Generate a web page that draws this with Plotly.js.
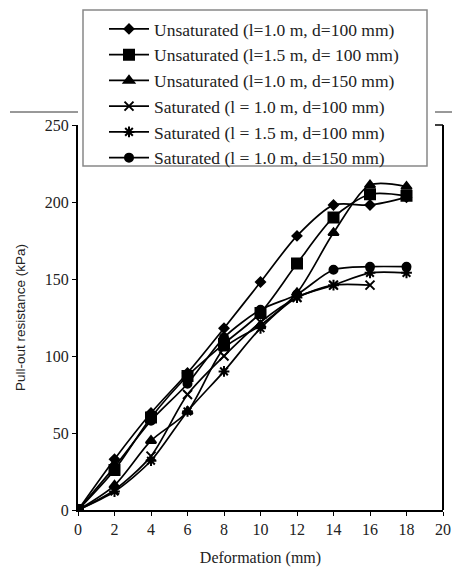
<!DOCTYPE html>
<html>
<head>
<meta charset="utf-8">
<script src="https://cdn.plot.ly/plotly-3.0.1.min.js"></script>
<style>html,body{margin:0;padding:0;background:#fff;}#chart{width:452px;height:571px;}</style>
</head>
<body>
<div id="chart"></div>
<script>
const deformation = [0, 2, 4, 6, 8, 10, 12, 14, 16, 18];
const deformationSat1 = [0, 2, 4, 6, 8, 10, 12, 14, 16];

const seriesNames = [
  "Unsaturated (l=1.0 m, d=100 mm)",
  "Unsaturated (l=1.5 m, d= 100 mm)",
  "Unsaturated (l=1.0 m, d=150 mm)",
  "Saturated (l = 1.0 m, d=100 mm)",
  "Saturated (l = 1.5 m, d=100 mm)",
  "Saturated (l = 1.0 m, d=150 mm)"
];

const unsat_l10_d100 = [0, 33, 63, 89, 118, 148, 178, 198, 198, 203];
const unsat_l15_d100 = [0, 26, 60, 87, 108, 128, 160, 190, 205, 204];
const unsat_l10_d150 = [0, 16, 45, 64, 105, 120, 141, 180, 211, 210];
const sat_l10_d100   = [0, 13, 35, 75, 100, 122, 138, 146, 146];
const sat_l15_d100   = [0, 12, 32, 64, 90, 118, 138, 146, 154, 154];
const sat_l10_d150   = [0, 28, 58, 82, 112, 130, 140, 156, 158, 158];

const xTicks = [0, 2, 4, 6, 8, 10, 12, 14, 16, 18, 20];
const yTicks = [0, 50, 100, 150, 200, 250];

const xs = [deformation, deformation, deformation, deformationSat1, deformation, deformation];
const ys = [unsat_l10_d100, unsat_l15_d100, unsat_l10_d150, sat_l10_d100, sat_l15_d100, sat_l10_d150];
const symbols = ["diamond", "square", "triangle-up", "x-thin-open", "asterisk-open", "circle"];
const sizes = [7, 10, 9, 9, 9, 8];

const traces = ys.map((y, i) => ({
  x: xs[i], y: y, name: seriesNames[i], type: "scatter", mode: "lines+markers",
  legendgroup: "g" + i,
  line: {color: "#000", width: 1.7, shape: "spline", smoothing: 0.8},
  marker: {symbol: symbols[i], size: sizes[i], color: "#000", line: {color: "#000", width: 2}}
}));

const serif = "Liberation Serif, Times New Roman, serif";
const L = 78, R = 443, T = 125, B = 510;
const px = v => (v - L) / (R - L);
const py = v => (B - v) / (B - T);

const layout = {
  width: 452, height: 571,
  margin: {l: L, r: 452 - R, t: T, b: 571 - B},
  paper_bgcolor: "#fff", plot_bgcolor: "#fff",
  showlegend: true,
  legend: {
    x: px(104), y: py(11), xanchor: "left", yanchor: "top",
    bgcolor: "rgba(0,0,0,0)", borderwidth: 0,
    font: {family: serif, size: 17.5, color: "#222"},
    tracegroupgap: 0, itemwidth: 40
  },
  xaxis: {
    range: [0, 20], tickvals: xTicks, ticktext: xTicks.map(String),
    showgrid: false, zeroline: false, showline: true, linecolor: "#000", linewidth: 2,
    mirror: false, ticks: "outside", ticklen: 4, tickcolor: "#000",
    tickfont: {family: serif, size: 16, color: "#222"},
    title: {text: "Deformation (mm)", font: {family: serif, size: 16, color: "#222"}, standoff: 15}
  },
  yaxis: {
    range: [0, 250], tickvals: yTicks, ticktext: yTicks.map(String),
    showgrid: false, zeroline: false, showline: true, linecolor: "#000", linewidth: 2,
    ticks: "outside", ticklen: 4, tickcolor: "#000",
    tickfont: {family: serif, size: 16, color: "#222"},
    title: {text: "Pull-out resistance (kPa)", font: {family: "Liberation Sans, Arial, sans-serif", size: 13.5, color: "#222"}, standoff: 16}
  },
  shapes: [
    {type: "line", xref: "paper", yref: "paper", x0: 1, x1: 1, y0: 0, y1: 1, line: {color: "#000", width: 2}},
    {type: "line", xref: "paper", yref: "paper", x0: px(435), x1: 1, y0: 1, y1: 1, line: {color: "#000", width: 1.5}},
    {type: "line", xref: "paper", yref: "paper", x0: px(10), x1: px(78), y0: py(112), y1: py(112), line: {color: "#333", width: 1}},
    {type: "line", xref: "paper", yref: "paper", x0: px(435), x1: px(452), y0: py(112), y1: py(112), line: {color: "#333", width: 1}},
    {type: "rect", xref: "paper", yref: "paper", x0: px(83), x1: px(427), y0: py(166), y1: py(10), fillcolor: "#fff", line: {color: "#888", width: 1.5}}
  ]
};

Plotly.newPlot("chart", traces, layout, {displayModeBar: false, staticPlot: true});
</script>
</body>
</html>
